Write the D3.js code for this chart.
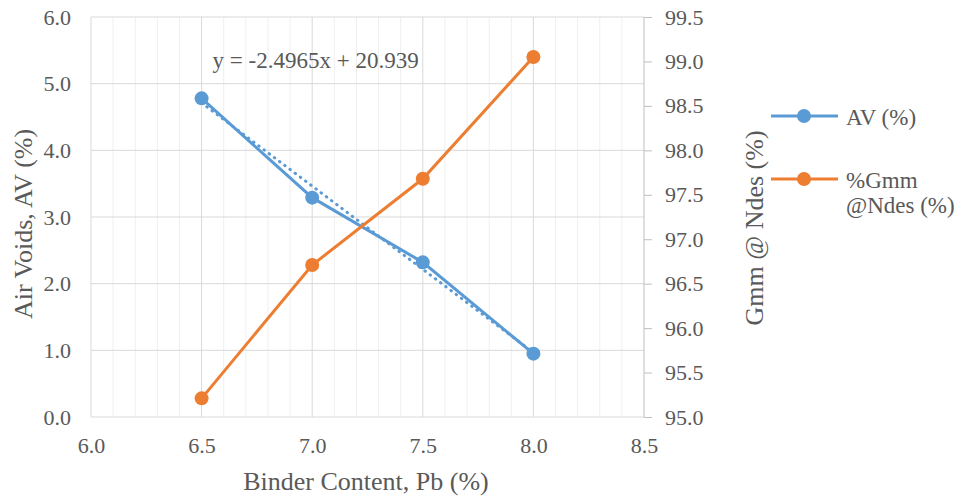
<!DOCTYPE html>
<html>
<head>
<meta charset="utf-8">
<script src="https://cdn.jsdelivr.net/npm/d3@7"></script>
<style>
  body { margin: 0; background: #fff; }
  svg text { font-family: "Liberation Serif", "DejaVu Serif", "Noto Serif", serif; fill: #595959; }
</style>
</head>
<body>
<div id="chart"></div>
<script>
// data
var binder = [6.5, 7.0, 7.5, 8.0];
var airVoids = [4.78, 3.29, 2.32, 0.95];
var gmmNdes = [95.21, 96.71, 97.68, 99.05];
var trendSlope = -2.4965, trendIntercept = 20.939;
var trendLabel = "y = -2.4965x + 20.939";
var xTicks = [6.0, 6.5, 7.0, 7.5, 8.0, 8.5];
var yLeftTicks = [0, 1, 2, 3, 4, 5, 6];
var yRightTicks = [95.0, 95.5, 96.0, 96.5, 97.0, 97.5, 98.0, 98.5, 99.0, 99.5];

var W = 957, H = 497;
var margin = {top: 17, right: 313, bottom: 80, left: 91},
    width = W - margin.left - margin.right,
    height = H - margin.top - margin.bottom;

var blue = "#5B9BD5", orange = "#ED7D31";
var serif = "'Liberation Serif', 'DejaVu Serif', 'Noto Serif', serif";

var svg = d3.select("#chart").append("svg")
    .attr("width", W)
    .attr("height", H)
    .attr("font-family", serif);

var g = svg.append("g")
    .attr("transform", "translate(" + margin.left + "," + margin.top + ")");

var x = d3.scaleLinear().domain([6.0, 8.5]).range([0, width]);
var yL = d3.scaleLinear().domain([0, 6]).range([height, 0]);
var yR = d3.scaleLinear().domain([95.0, 99.5]).range([height, 0]);

// minor vertical gridlines every 0.1
var minor = d3.range(61, 85).map(function(d) { return d / 10; });
g.selectAll(".vminor").data(minor).enter().append("line")
    .attr("x1", function(d) { return x(d); })
    .attr("x2", function(d) { return x(d); })
    .attr("y1", 0).attr("y2", height)
    .attr("stroke", function(d) { return Math.abs(d * 2 - Math.round(d * 2)) < 1e-6 ? "#d9d9d9" : "#efefef"; })
    .attr("stroke-width", 1);

// horizontal gridlines
g.selectAll(".hgrid").data(yLeftTicks.slice(1)).enter().append("line")
    .attr("x1", 0).attr("x2", width)
    .attr("y1", function(d) { return yL(d); })
    .attr("y2", function(d) { return yL(d); })
    .attr("stroke", "#d9d9d9");

// frame lines
g.append("line").attr("x1", 0).attr("x2", 0).attr("y1", 0).attr("y2", height).attr("stroke", "#d9d9d9");
g.append("line").attr("x1", 0).attr("x2", width).attr("y1", height).attr("y2", height).attr("stroke", "#d9d9d9");
g.append("line").attr("x1", width).attr("x2", width).attr("y1", 0).attr("y2", height).attr("stroke", "#bfbfbf");

// axes
var xAxis = g.append("g")
    .attr("transform", "translate(0," + height + ")")
    .call(d3.axisBottom(x).tickValues(xTicks).tickFormat(d3.format(".1f")).tickSize(0).tickPadding(20));
var yAxisL = g.append("g")
    .call(d3.axisLeft(yL).tickValues(yLeftTicks).tickFormat(d3.format(".1f")).tickSize(0).tickPadding(20));
var yAxisR = g.append("g")
    .attr("transform", "translate(" + width + ",0)")
    .call(d3.axisRight(yR).tickValues(yRightTicks).tickFormat(d3.format(".1f")).tickSize(8).tickPadding(13));

[xAxis, yAxisL, yAxisR].forEach(function(a) {
    a.attr("font-family", serif).attr("font-size", 22);
    a.select(".domain").remove();
    a.selectAll("text").attr("fill", "#595959");
    a.selectAll("line").attr("stroke", "#bfbfbf");
});

// trendline
var trendX = [binder[0], binder[binder.length - 1]];
g.append("line")
    .attr("x1", x(trendX[0])).attr("y1", yL(trendSlope * trendX[0] + trendIntercept))
    .attr("x2", x(trendX[1])).attr("y2", yL(trendSlope * trendX[1] + trendIntercept))
    .attr("stroke", blue).attr("stroke-width", 3)
    .attr("stroke-linecap", "round")
    .attr("stroke-dasharray", "0.5,6");

// series
var lineL = d3.line().x(function(d, i) { return x(binder[i]); }).y(function(d) { return yL(d); });
var lineR = d3.line().x(function(d, i) { return x(binder[i]); }).y(function(d) { return yR(d); });

g.append("path").datum(airVoids).attr("d", lineL)
    .attr("fill", "none").attr("stroke", blue).attr("stroke-width", 3);
g.append("path").datum(gmmNdes).attr("d", lineR)
    .attr("fill", "none").attr("stroke", orange).attr("stroke-width", 3);

g.selectAll(".avdot").data(airVoids).enter().append("circle")
    .attr("cx", function(d, i) { return x(binder[i]); })
    .attr("cy", function(d) { return yL(d); })
    .attr("r", 7).attr("fill", blue);
g.selectAll(".gdot").data(gmmNdes).enter().append("circle")
    .attr("cx", function(d, i) { return x(binder[i]); })
    .attr("cy", function(d) { return yR(d); })
    .attr("r", 7).attr("fill", orange);

// trend label
g.append("text")
    .attr("x", x(6.5) + 11).attr("y", 51)
    .attr("font-size", 23)
    .text(trendLabel);

// axis titles
svg.append("text")
    .attr("transform", "translate(32,224) rotate(-90)")
    .attr("text-anchor", "middle")
    .attr("font-size", 26)
    .text("Air Voids, AV (%)");
svg.append("text")
    .attr("transform", "translate(763,228) rotate(-90)")
    .attr("text-anchor", "middle")
    .attr("font-size", 26)
    .text("Gmm @ Ndes (%)");
svg.append("text")
    .attr("x", 366).attr("y", 490)
    .attr("text-anchor", "middle")
    .attr("font-size", 26)
    .text("Binder Content, Pb (%)");

// legend
var legend = [
    {lines: ["AV (%)"], color: blue, y: 116},
    {lines: ["%Gmm", "@Ndes (%)"], color: orange, y: 179}
];
var lg = svg.selectAll(".leg").data(legend).enter().append("g")
    .attr("transform", function(d) { return "translate(771," + d.y + ")"; });
lg.append("line").attr("x1", 0).attr("x2", 67).attr("y1", 0).attr("y2", 0)
    .attr("stroke", function(d) { return d.color; }).attr("stroke-width", 3);
lg.append("circle").attr("cx", 33).attr("cy", 0).attr("r", 7)
    .attr("fill", function(d) { return d.color; });
lg.append("text")
    .attr("x", 75).attr("y", 9)
    .attr("font-size", 23)
    .selectAll("tspan").data(function(d) { return d.lines; }).enter().append("tspan")
    .attr("x", 75)
    .attr("dy", function(d, i) { return i === 0 ? 0 : 25; })
    .text(function(d) { return d; });
</script>
</body>
</html>
